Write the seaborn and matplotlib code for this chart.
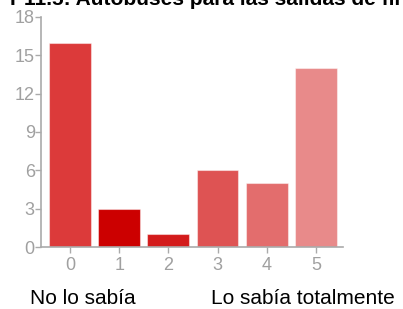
import numpy as np
import pandas as pd
import seaborn as sns
import matplotlib.pyplot as plt

# data
categories = ['0', '1', '2', '3', '4', '5']
counts = [16, 3, 1, 6, 5, 14]
bar_colors = ['#dc3a3a', '#cc0000', '#d31b1b', '#de5353', '#e36d6d', '#e88a8a']
yticks = [0, 3, 6, 9, 12, 15, 18]
title = 'P11.5: Autobuses para las salidas de fin de semana'
left_label = 'No lo sabía'
right_label = 'Lo sabía totalmente'

sns.set_style('white')
plt.rcParams['font.family'] = ['Liberation Sans', 'DejaVu Sans']

df = pd.DataFrame({'cat': categories, 'n': counts})

fig = plt.figure(figsize=(4.03, 3.09), dpi=100)
ax = fig.add_axes([41 / 403, 62 / 309, 302 / 403, 230 / 309])

sns.barplot(data=df, x='cat', y='n', hue='cat', palette=bar_colors,
            legend=False, width=0.85, saturation=1, ax=ax)
for p in ax.patches:
    p.set_edgecolor((1, 1, 1, 0.45))
    p.set_linewidth(0.8)

ax.set_xlim(-0.59, 5.55)
ax.set_ylim(0, 18)
ax.set_yticks(yticks)
ax.set_xlabel('')
ax.set_ylabel('')

gray = '#a0a0a0'
for side in ['top', 'right']:
    ax.spines[side].set_visible(False)
for side in ['left', 'bottom']:
    ax.spines[side].set_color('#aaaaaa')
    ax.spines[side].set_linewidth(1.2)
ax.tick_params(axis='both', colors='#aaaaaa', labelcolor=gray,
               labelsize=13, length=4, width=1, direction='out',
               left=True, bottom=True)
ax.tick_params(axis='x', pad=3)
ax.tick_params(axis='y', pad=0.5)

fig.text(10 / 403, 1 - 5 / 309, title, fontsize=15, fontweight='bold',
         ha='left', va='baseline', color='black')
fig.text(30 / 403, 1 - 304 / 309, left_label, fontsize=15,
         ha='left', va='baseline', color='black')
fig.text(211 / 403, 1 - 304 / 309, right_label, fontsize=15,
         ha='left', va='baseline', color='black')

fig.savefig('out.png', dpi=100)
